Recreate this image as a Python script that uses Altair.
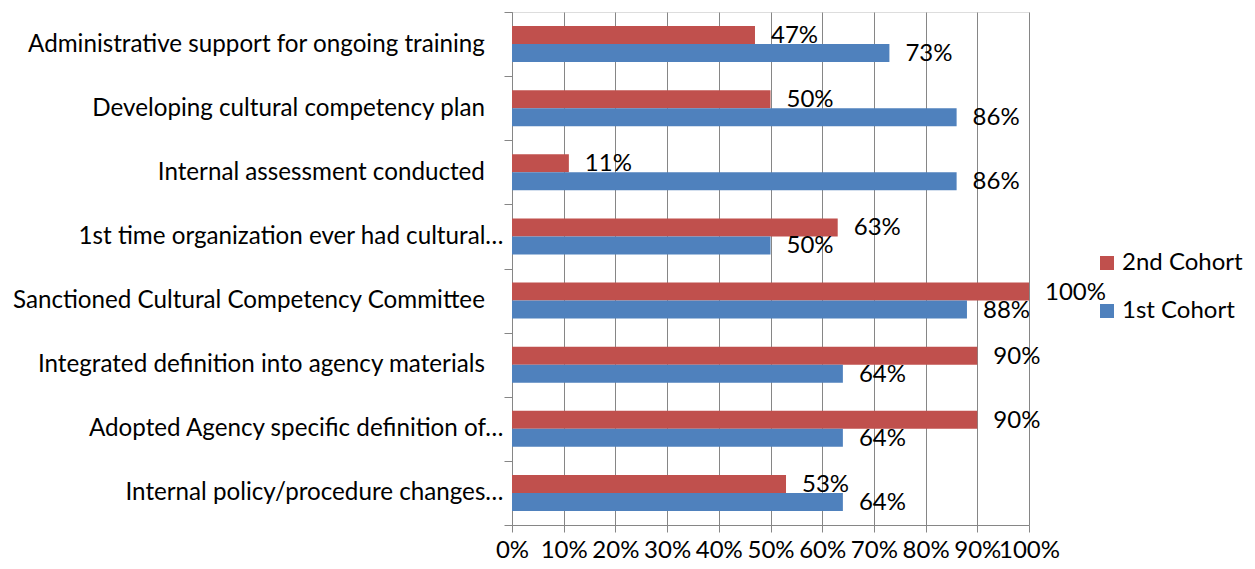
import altair as alt
import pandas as pd

categories = [
    "Administrative support for ongoing training",
    "Developing cultural competency plan",
    "Internal assessment conducted",
    "1st time organization ever had cultural\u2026",
    "Sanctioned Cultural Competency Committee",
    "Integrated definition into agency materials",
    "Adopted Agency specific definition of\u2026",
    "Internal policy/procedure changes\u2026",
]
cohorts = ["2nd Cohort", "1st Cohort"]
second_cohort = [47, 50, 11, 63, 100, 90, 90, 53]
first_cohort = [73, 86, 86, 50, 88, 64, 64, 64]
x_ticks = [0, 10, 20, 30, 40, 50, 60, 70, 80, 90, 100]
colors = ["#C0504D", "#4F81BD"]

rows = []
for c, s, f in zip(categories, second_cohort, first_cohort):
    rows.append({"category": c, "cohort": cohorts[0], "value": s})
    rows.append({"category": c, "cohort": cohorts[1], "value": f})
df = pd.DataFrame(rows)

FONT = "Lato"
FS = 24
GREY = "#868686"
# trailing non-breaking spaces, protected from trimming by a zero-width char
PAD = "\u00a0" * 3 + "\u200b"

y_enc = alt.Y(
    "category:N",
    sort=categories,
    scale=alt.Scale(paddingInner=0, paddingOuter=0),
    axis=alt.Axis(
        title=None,
        tickBand="extent",
        tickSize=8,
        tickColor=GREY,
        domainColor=GREY,
        labelFont=FONT,
        labelFontSize=24.2,
        labelColor="black",
        labelPadding=1,
        labelLimit=0,
        labelExpr="indexof(datum.label, '\u2026') < 0 ? datum.label + '" + PAD + "' : datum.label",
    ),
)
yoff_enc = alt.YOffset(
    "cohort:N",
    sort=cohorts,
    scale=alt.Scale(paddingInner=0, paddingOuter=0.78),
)
x_enc = alt.X(
    "value:Q",
    scale=alt.Scale(domain=[0, 100], nice=False),
    axis=alt.Axis(
        title=None,
        values=x_ticks,
        labelExpr="datum.value + '%'",
        grid=True,
        gridColor=GREY,
        tickColor=GREY,
        domainColor=GREY,
        tickSize=7,
        labelFont=FONT,
        labelFontSize=FS,
        labelColor="black",
        labelBaseline="middle",
        labelPadding=18,
        labelFlush=False,
        labelOverlap=False,
    ),
)

base = alt.Chart(df)

bars = base.mark_bar().encode(
    y=y_enc,
    yOffset=yoff_enc,
    x=x_enc,
    color=alt.Color(
        "cohort:N",
        sort=cohorts,
        scale=alt.Scale(domain=cohorts, range=colors),
        legend=alt.Legend(
            title=None,
            orient="none",
            legendX=583,
            legendY=239,
            symbolType="square",
            symbolSize=196,
            symbolStrokeWidth=0,
            labelFont=FONT,
            labelFontSize=FS,
            labelColor="black",
            rowPadding=24,
            labelOffset=3,
        ),
    ),
)

labels = base.mark_text(
    align="left", baseline="middle", dx=16, dy=1, font=FONT, fontSize=FS, color="black"
).encode(
    y=alt.Y("category:N", sort=categories),
    yOffset=alt.YOffset("cohort:N", sort=cohorts),
    x=alt.X("value:Q"),
    text=alt.Text("label:N"),
).transform_calculate(label="datum.value + '%'")

chart = (
    alt.layer(bars, labels)
    .properties(
        width=517,
        height=513,
        padding={"left": 504, "top": 4, "right": 218, "bottom": 36},
        autosize=alt.AutoSizeParams(type="none"),
    )
    .configure_view(stroke=None)
    .configure(background="white")
)

chart.save("out.html", embed_options={"renderer": "svg", "actions": False})
